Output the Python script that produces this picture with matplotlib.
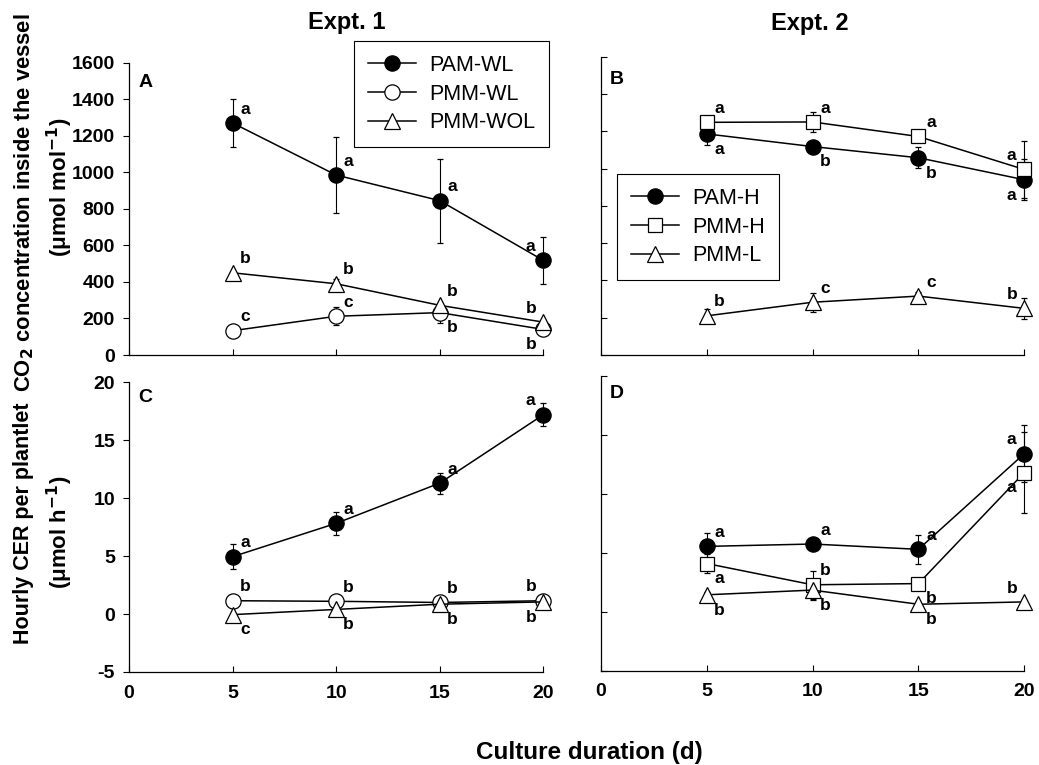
import matplotlib
matplotlib.use("Agg")
import matplotlib.pyplot as plt

plt.rcParams['font.family'] = ['Liberation Sans', 'DejaVu Sans']
plt.rcParams['axes.unicode_minus'] = False

# culture duration (d)
days = [5, 10, 15, 20]

# Expt. 1, CO2 concentration (umol mol-1)
pam_wl_co2 = [1270, 985, 845, 518]
pam_wl_co2_err = [130, 208, 230, 130]
pmm_wl_co2 = [133, 212, 232, 140]
pmm_wl_co2_err = [10, 50, 55, 15]
pmm_wol_co2 = [450, 390, 272, 180]
pmm_wol_co2_err = [10, 25, 15, 10]

# Expt. 2, CO2 concentration
pam_h_co2 = [1186, 1118, 1058, 940]
pam_h_co2_err = [60, 15, 55, 110]
pmm_h_co2 = [1248, 1250, 1172, 995]
pmm_h_co2_err = [30, 55, 15, 155]
pmm_l_co2 = [210, 283, 316, 250]
pmm_l_co2_err = [35, 50, 20, 55]

# Expt. 1, hourly CER per plantlet (umol h-1)
pam_wl_cer = [4.95, 7.83, 11.3, 17.2]
pam_wl_cer_err = [1.1, 1.0, 0.9, 1.0]
pmm_wl_cer = [1.15, 1.1, 1.0, 1.15]
pmm_wl_cer_err = [0.1, 0.1, 0.1, 0.1]
pmm_wol_cer = [-0.05, 0.4, 0.85, 1.05]
pmm_wol_cer_err = [0.15, 0.1, 0.1, 0.1]

# Expt. 2, hourly CER
pam_h_cer = [5.55, 5.75, 5.3, 13.4]
pam_h_cer_err = [1.1, 0.3, 1.2, 2.4]
pmm_h_cer = [4.1, 2.3, 2.4, 11.8]
pmm_h_cer_err = [0.8, 1.2, 0.3, 3.4]
pmm_l_cer = [1.45, 1.85, 0.65, 0.85]
pmm_l_cer_err = [0.2, 0.8, 0.2, 0.1]

# significance letters and where they sit (u/l = above/below, r/l = right/left)
A_letters = [['a', 'a', 'a', 'a'], ['c', 'c', 'b', 'b'], ['b', 'b', 'b', 'b']]
A_pos = [['ur', 'ur', 'ur', 'ul'], ['ur', 'ur', 'lr', 'll'], ['ur', 'ur', 'ur', 'ul']]
B_letters = [['a', 'b', 'b', 'a'], ['a', 'a', 'a', 'a'], ['b', 'c', 'c', 'b']]
B_pos = [['lr', 'lr', 'lr', 'll'], ['ur', 'ur', 'ur', 'ul'], ['ur', 'ur', 'ur', 'ul']]
C_letters = [['a', 'a', 'a', 'a'], ['b', 'b', 'b', 'b'], ['c', 'b', 'b', 'b']]
C_pos = [['ur', 'ur', 'ur', 'ul'], ['ur', 'ur', 'ur', 'ul'], ['lr', 'lr', 'lr', 'll']]
D_letters = [['a', 'a', 'a', 'a'], ['a', 'b', 'b', 'a'], ['b', 'b', 'b', 'b']]
D_pos = [['ur', 'ur', 'ur', 'ul'], ['lr', 'ur', 'lr', 'll'], ['lr', 'lr', 'lr', 'ul']]

expt1_names = ['PAM-WL', 'PMM-WL', 'PMM-WOL']
expt2_names = ['PAM-H', 'PMM-H', 'PMM-L']

W, H = 1039, 765
fig = plt.figure(figsize=(W / 100, H / 100), dpi=100)


def px_axes(left, right, top, bottom):
    return fig.add_axes([left / W, 1 - bottom / H, (right - left) / W, (bottom - top) / H])


axA = px_axes(129, 543.3, 62.7, 355)
axB = px_axes(600.7, 1024.3, 56.7, 355)
axC = px_axes(129, 543.3, 382.3, 672)
axD = px_axes(600.7, 1024.3, 375.7, 671)

styles = {
    'fc': dict(marker='o', mfc='black', ms=11),
    'oc': dict(marker='o', mfc='white', ms=11),
    'tr': dict(marker='^', mfc='white', ms=11),
    'sq': dict(marker='s', mfc='white', ms=10),
}

offsets = {'ur': (9, 10), 'ul': (-9, 10), 'lr': (9, -11), 'll': (-9, -11)}


def draw(ax, series, errs, kinds, letters, pos):
    handles = []
    for ys, es, k, lets, ps in zip(series, errs, kinds, letters, pos):
        c = ax.errorbar(days, ys, yerr=es, color='black', lw=1.1, mec='black', mew=0.9,
                        capsize=2.5, elinewidth=0.8, capthick=0.8, clip_on=False, **styles[k])
        handles.append(c[0])
        for x, y, t, p in zip(days, ys, lets, ps):
            ax.annotate(t, (x, y), xytext=offsets[p], textcoords='offset points',
                        ha='center', va='center', fontsize=12.5, fontweight='bold')
    return handles


hA = draw(axA, [pam_wl_co2, pmm_wl_co2, pmm_wol_co2],
          [pam_wl_co2_err, pmm_wl_co2_err, pmm_wol_co2_err], ['fc', 'oc', 'tr'], A_letters, A_pos)
hB = draw(axB, [pam_h_co2, pmm_h_co2, pmm_l_co2],
          [pam_h_co2_err, pmm_h_co2_err, pmm_l_co2_err], ['fc', 'sq', 'tr'], B_letters, B_pos)
draw(axC, [pam_wl_cer, pmm_wl_cer, pmm_wol_cer],
     [pam_wl_cer_err, pmm_wl_cer_err, pmm_wol_cer_err], ['fc', 'oc', 'tr'], C_letters, C_pos)
draw(axD, [pam_h_cer, pmm_h_cer, pmm_l_cer],
     [pam_h_cer_err, pmm_h_cer_err, pmm_l_cer_err], ['fc', 'sq', 'tr'], D_letters, D_pos)

for ax in [axA, axB, axC, axD]:
    ax.set_xlim(0, 20)
    ax.set_xticks([0, 5, 10, 15, 20])
    for s in ['top', 'right']:
        ax.spines[s].set_visible(False)
    for s in ['left', 'bottom']:
        ax.spines[s].set_linewidth(0.9)
    ax.tick_params(axis='x', direction='in', length=4, width=0.8)
    ax.tick_params(axis='y', direction='out', length=4, width=0.8)
    for lab in ax.get_xticklabels() + ax.get_yticklabels():
        lab.set_fontweight('bold')
        lab.set_fontsize(14)

for ax in [axA, axB]:
    ax.set_ylim(0, 1600)
    ax.set_yticks(range(0, 1601, 200))
    ax.tick_params(axis='x', labelbottom=False)
for ax in [axC, axD]:
    ax.set_ylim(-5, 20)
    ax.set_yticks([-5, 0, 5, 10, 15, 20])
    ax.tick_params(axis='x', pad=9)
for ax in [axB, axD]:
    ax.tick_params(axis='y', labelleft=False, direction='in')
axA.tick_params(axis='y', pad=6)
axC.tick_params(axis='y', pad=6)

for ax, t, x, y in [(axA, 'A', 0.022, 0.931), (axB, 'B', 0.022, 0.922),
                    (axC, 'C', 0.022, 0.948), (axD, 'D', 0.022, 0.94)]:
    ax.text(x, y, t, transform=ax.transAxes, fontsize=14, fontweight='bold', va='center')

leg_kw = dict(loc='upper left', fontsize=15.5, frameon=True, fancybox=False,
              edgecolor='black', framealpha=1, handlelength=2.25, labelspacing=0.35,
              borderpad=0.65, handletextpad=0.6, borderaxespad=0)
legA = fig.legend(hA, expt1_names, bbox_to_anchor=(354 / W, 1 - 41 / H), **leg_kw)
legA.get_frame().set_linewidth(0.8)
legB = fig.legend(hB, expt2_names, bbox_to_anchor=(617 / W, 1 - 174 / H), **leg_kw)
legB.get_frame().set_linewidth(0.8)

fig.text(347 / W, 1 - 29.5 / H, 'Expt. 1', ha='center', va='baseline', fontsize=17, fontweight='bold')
fig.text(810 / W, 1 - 30 / H, 'Expt. 2', ha='center', va='baseline', fontsize=17, fontweight='bold')

fig.text(24 / W, 1 - 203 / H, 'CO$_\\mathbf{2}$ concentration inside the vessel', rotation=90,
         ha='center', va='center', fontsize=15.8, fontweight='bold')
fig.text(60 / W, 1 - 187 / H, '(\u03bcmol mol$^{\\mathbf{-1}}$)', rotation=90,
         ha='center', va='center', fontsize=16, fontweight='bold')
fig.text(24 / W, 1 - 523 / H, 'Hourly CER per plantlet', rotation=90,
         ha='center', va='center', fontsize=15.5, fontweight='bold')
fig.text(60 / W, 1 - 532 / H, '(\u03bcmol h$^{\\mathbf{-1}}$)', rotation=90,
         ha='center', va='center', fontsize=16, fontweight='bold')

fig.text(589.5 / W, 1 - 759.3 / H, 'Culture duration (d)', ha='center', va='baseline',
         fontsize=17.5, fontweight='bold')

fig.savefig('out.png', dpi=100)
